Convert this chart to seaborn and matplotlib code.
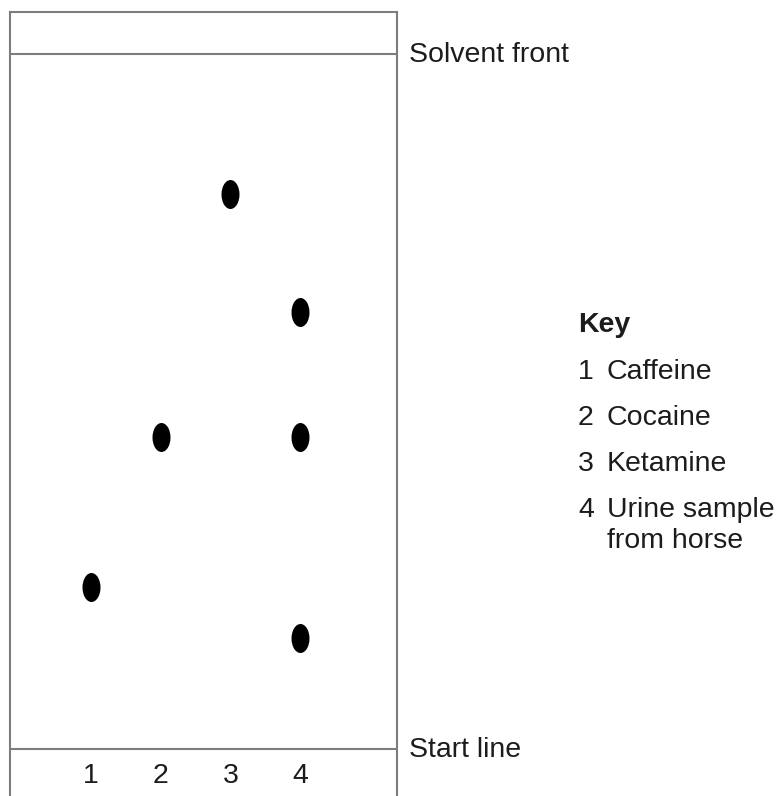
import numpy as np
import pandas as pd
import matplotlib
matplotlib.use("Agg")
import matplotlib.pyplot as plt
import seaborn as sns
from matplotlib.path import Path
from matplotlib.transforms import Affine2D

# Chromatogram data: lane of each spot and its distance (Rf, solvent front = 1)
lanes = [1, 2, 3, 4]
spot_lane = [1, 2, 3, 4, 4, 4]
spot_rf = [0.233, 0.449, 0.799, 0.629, 0.449, 0.160]
line_labels = ["Solvent front", "Start line"]
line_rf = [1.0, 0.0]
key_title = "Key"
key_items = ["Caffeine", "Cocaine", "Ketamine", "Urine sample\nfrom horse"]

spots = pd.DataFrame({"lane": spot_lane, "rf": spot_rf})

sns.set_theme(style="white")
plt.rcParams["font.family"] = ["Liberation Sans", "DejaVu Sans"]

W, H = 781, 796
fig = plt.figure(figsize=(W / 100, H / 100), dpi=100)
fig.patch.set_facecolor("white")

# plate occupies x 10..397 px, y 12..bottom px
ax = fig.add_axes([10 / W, 0, 387 / W, (H - 12) / H])
ax.set_xlim(-0.162, 5.39)
ax.set_ylim(-0.0676, 1.0604)

grey = "#7d7d7d"
txt = "#1c1c1c"
fs = 20.5
for side in ["left", "right", "top"]:
    ax.spines[side].set_visible(True)
    ax.spines[side].set_color(grey)
    ax.spines[side].set_linewidth(1.5)
ax.spines["bottom"].set_visible(False)
ax.set_xticks([])
ax.set_yticks([])

# solvent front and start line
for rf, lab in zip(line_rf, line_labels):
    ax.axhline(rf, color=grey, lw=1.5)
    ax.text(1.031, rf - 0.012, lab, transform=ax.get_yaxis_transform(),
            ha="left", va="baseline", fontsize=fs, color=txt, clip_on=False)

# elliptical spots
ellipse = Path.unit_circle().transformed(Affine2D().scale(0.62, 1.0))
sns.scatterplot(data=spots, x="lane", y="rf", ax=ax, marker=ellipse,
                s=436, color="black", linewidth=0, legend=False)
ax.set_xlabel("")
ax.set_ylabel("")

# lane numbers under the start line
for lane in lanes:
    ax.text(lane, -0.049, str(lane), ha="center", va="baseline",
            fontsize=fs, color=txt)

# key
fig.text(578 / W, 1 - 332 / H, key_title, fontsize=fs, fontweight="bold",
         color=txt, ha="left", va="baseline")
y = 379
for i, item in enumerate(key_items):
    fig.text(578 / W, 1 - y / H, str(lanes[i]), fontsize=fs, color=txt,
             ha="left", va="baseline")
    for j, part in enumerate(item.split("\n")):
        fig.text(607 / W, 1 - (y + 31 * j) / H, part, fontsize=fs, color=txt,
                 ha="left", va="baseline")
    y += 46

fig.savefig("out.png", dpi=100, facecolor="white")
